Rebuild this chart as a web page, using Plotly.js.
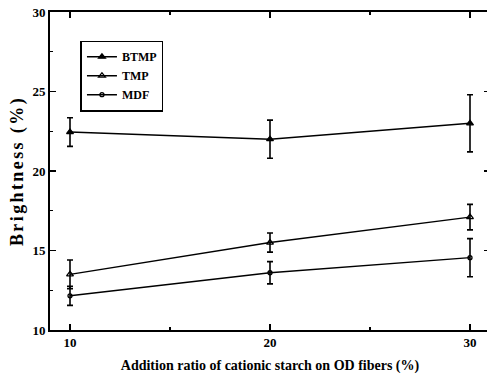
<!DOCTYPE html>
<html><head><meta charset="utf-8">
<script src="https://cdn.plot.ly/plotly-3.0.1.min.js"></script>
<style>
html,body{margin:0;padding:0;overflow:hidden;background:#fff}
#chart .ytitle{letter-spacing:2.4px}
</style>
</head><body>
<div id="chart" style="width:490px;height:376px"></div>
<script>
const ratio = [10, 20, 30];
const btmp = [22.45, 22.0, 23.0];
const btmpErr = [0.9, 1.2, 1.8];
const tmp = [13.5, 15.5, 17.1];
const tmpErr = [0.9, 0.6, 0.8];
const mdf = [12.15, 13.6, 14.55];
const mdfErr = [0.6, 0.7, 1.2];
const names = ['BTMP', 'TMP', 'MDF'];

const font = {family: 'Liberation Serif, Times New Roman, serif', color: '#000', weight: 'bold'};
function tr(name, y, err, sym, size) {
  return {
    x: ratio, y: y, name: name, type: 'scatter', mode: 'lines+markers',
    line: {color: '#000', width: 1.4},
    marker: {symbol: sym, size: size, color: '#000', line: {color: '#000', width: 1.3}},
    error_y: {type: 'data', array: err, visible: true, color: '#000', thickness: 1.6, width: 3}
  };
}
const data = [
  tr(names[0], btmp, btmpErr, 'triangle-up', 6),
  tr(names[1], tmp, tmpErr, 'triangle-up-open', 6),
  tr(names[2], mdf, mdfErr, 'circle-open', 4)
];
const axisCommon = {
  showline: true, linecolor: '#000', linewidth: 1.8, mirror: 'ticks',
  ticks: 'inside', ticklen: 6, tickwidth: 1.3, tickcolor: '#000',
  showgrid: false, zeroline: false,
  tickfont: Object.assign({size: 13}, font)
};
const layout = {
  width: 490, height: 376,
  margin: {l: 50, r: 0, t: 12, b: 46},
  paper_bgcolor: '#fff', plot_bgcolor: '#fff',
  showlegend: true,
  legend: {
    x: 0.069, y: 0.91, xanchor: 'left', yanchor: 'top',
    bgcolor: '#fff', bordercolor: '#000', borderwidth: 1.6,
    font: Object.assign({size: 12}, font), tracegroupgap: 0,
    itemwidth: 30
  },
  xaxis: Object.assign({}, axisCommon, {
    range: [9, 31], tick0: 10, dtick: 10,
    minor: {dtick: 5, tick0: 10, ticks: 'inside', ticklen: 3, tickcolor: '#000'},
    title: {text: 'Addition ratio of cationic starch on OD fibers (%)', font: Object.assign({size: 14}, font), standoff: 11}
  }),
  yaxis: Object.assign({}, axisCommon, {
    range: [10, 30], tick0: 10, dtick: 5,
    minor: {dtick: 2.5, tick0: 10, ticks: 'inside', ticklen: 3, tickcolor: '#000'},
    title: {text: 'Brightness (%)', font: Object.assign({size: 18}, font), standoff: 4}
  })
};
Plotly.newPlot('chart', data, layout, {displayModeBar: false, staticPlot: true});
</script>
</body></html>
